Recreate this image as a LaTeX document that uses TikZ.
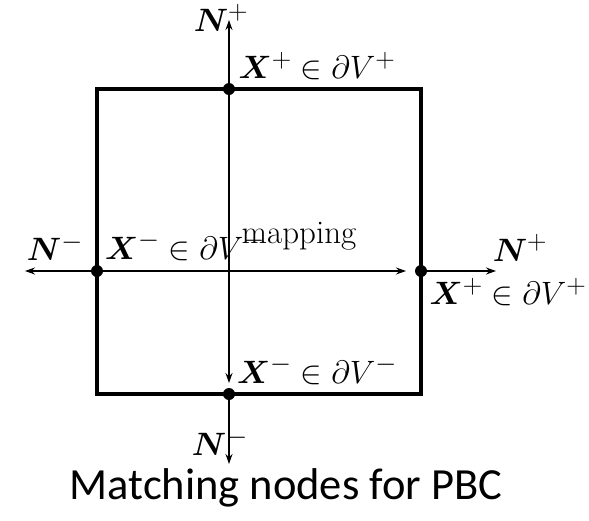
\documentclass[tikz,border=0pt]{standalone}
\usepackage{graphicx}
\usepackage{amsmath,bm}
\usepackage{fontspec}
\newfontfamily\capfont{Carlito}
\usetikzlibrary{arrows.meta}
\newcommand{\mlbl}[1]{\scalebox{1.30}{\fontsize{24.88}{28}\selectfont$#1$}}
\begin{document}
\begin{tikzpicture}[x=1pt,y=-1pt,
  lbl/.style={inner sep=0pt},
  thin/.style={line width=1.2pt},
  arr/.style={thin,-{Stealth[length=10pt,width=7pt]}},
  dot/.style={circle,fill=black,inner sep=0pt,minimum size=12pt}]
\useasboundingbox (0,0) rectangle (589,520);
\draw[line width=3.5pt] (97,89) rectangle (421,394);
\node[dot] (top) at (229,89) {};
\node[dot] (bot) at (229,394) {};
\node[dot] (lft) at (97,271) {};
\node[dot] (rgt) at (421,271) {};
\coordinate (topend) at (229,20);
\coordinate (botend) at (229,464);
\coordinate (lftend) at (25,271);
\coordinate (rgtend) at (496,271);
\coordinate (midend) at (406,271);
\coordinate (vmidend) at (229,383);
\draw[arr] (top) -- (topend);
\draw[arr] (bot) -- (botend);
\draw[arr] (lft) -- (lftend);
\draw[arr] (rgt) -- (rgtend);
\draw[arr] (lft) -- (midend);
\draw[arr] (top) -- (vmidend);
\node[lbl] (nt) at (221,18) {\mlbl{\bm{N}^+}};
\node[lbl] (xt) at (317,66) {\mlbl{\bm{X}^+\in\partial V^+}};
\node[lbl] (nl) at (55,247) {\mlbl{\bm{N}^-}};
\node[lbl] (xl) at (185,246) {\mlbl{\bm{X}^-\in\partial V^-}};
\node[lbl,font=\fontsize{33}{36}\selectfont] (mp) at (299,236) {mapping};
\node[lbl] (nr) at (520,248) {\mlbl{\bm{N}^+}};
\node[lbl] (xr) at (508,292) {\mlbl{\bm{X}^+\in\partial V^+}};
\node[lbl] (xb) at (317,370) {\mlbl{\bm{X}^-\in\partial V^-}};
\node[lbl] (nb) at (220,442) {\mlbl{\bm{N}^-}};
\node[inner sep=0pt,font=\capfont\fontsize{44.5}{48}\selectfont] (cap) at (286,488) {Matching nodes for PBC};
\end{tikzpicture}
\end{document}
